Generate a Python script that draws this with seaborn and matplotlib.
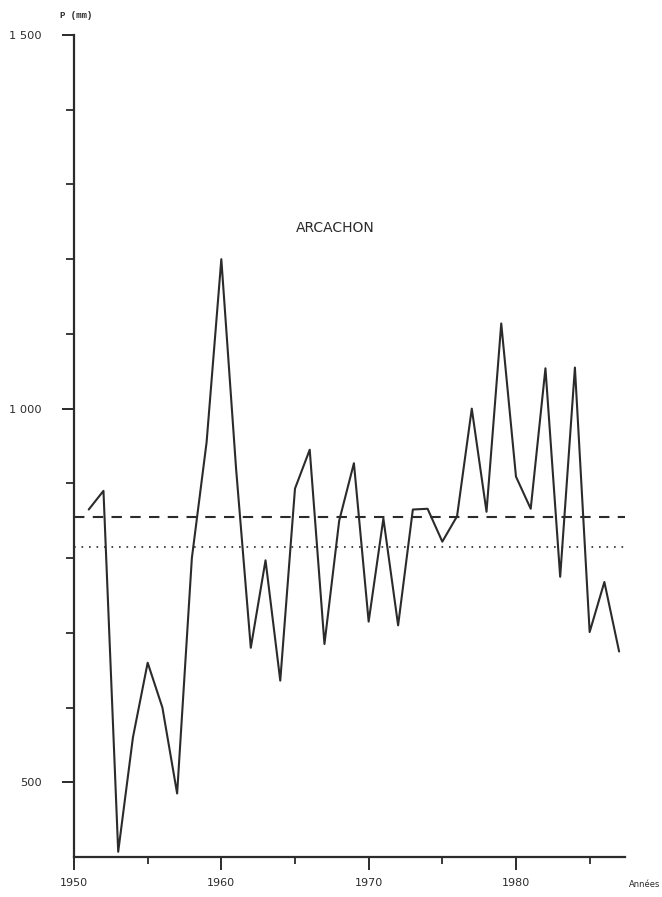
import matplotlib
matplotlib.use("Agg")
import matplotlib.pyplot as plt
import seaborn as sns
import pandas as pd

# Annual precipitation at Arcachon (mm)
years = list(range(1951, 1988))
precip = [865, 890, 407, 560, 660, 600, 485, 800, 955, 1200,
          920, 680, 797, 636, 893, 945, 685, 850, 927, 715,
          853, 710, 865, 866, 822, 856, 1000, 862, 1114, 909,
          866, 1054, 775, 1055, 701, 768, 675]

mean_long = 855    # dashed reference level
mean_short = 815   # dotted reference level

station = "ARCACHON"
y_major = [500, 1000, 1500]
y_major_labels = ["500", "1 000", "1 500"]
y_minor = [600, 700, 800, 900, 1100, 1200, 1300, 1400]
x_major = [1950, 1960, 1970, 1980]
x_minor = [1955, 1965, 1975, 1985]

df = pd.DataFrame({"Année": years, "P": precip})

sns.set_style("white")
plt.rcParams["font.family"] = ["DejaVu Sans"]

W, H = 662, 897
fig = plt.figure(figsize=(W / 100, H / 100), dpi=100)
ax = fig.add_axes([74 / W, 1 - 857 / H, (625 - 74) / W, (857 - 35) / H])

ink = "#2b2b2b"
sns.lineplot(data=df, x="Année", y="P", ax=ax, color=ink, linewidth=1.5)

ax.axhline(mean_long, color=ink, linewidth=1.5, dashes=(5, 4))
ax.axhline(mean_short, color=ink, linewidth=1.2, dashes=(1, 3.5))

ax.set_xlim(1950, 1987.4)
ax.set_ylim(400, 1500)

for s in ["top", "right"]:
    ax.spines[s].set_visible(False)
for s in ["left", "bottom"]:
    ax.spines[s].set_color(ink)
    ax.spines[s].set_linewidth(1.6)

ax.set_yticks(y_major)
ax.set_yticklabels(y_major_labels)
ax.set_yticks(y_minor, minor=True)
ax.set_xticks(x_major)
ax.set_xticklabels([str(v) for v in x_major])
ax.set_xticks(x_minor, minor=True)

ax.tick_params(axis="y", which="major", direction="out", length=9, width=1.4,
               color=ink, labelsize=8.2, labelcolor=ink, pad=14, left=True)
ax.tick_params(axis="y", which="minor", direction="out", length=6, width=1.3,
               color=ink, left=True)
ax.tick_params(axis="x", which="major", direction="out", length=9, width=1.4,
               color=ink, labelsize=8, labelcolor=ink, pad=6, bottom=True)
ax.tick_params(axis="x", which="minor", direction="out", length=5, width=1.3,
               color=ink, bottom=True)

ax.set_xlabel("")
ax.set_ylabel("")
ax.grid(False)

fig.text(76 / W, 1 - 15 / H, "P (mm)", ha="center", va="center",
         fontsize=6.5, family="Liberation Mono", weight="bold", color=ink)
fig.text(645 / W, 1 - 884 / H, "Années", ha="center", va="center",
         fontsize=6, color=ink)
fig.text(335 / W, 1 - 228 / H, station, ha="center", va="center",
         fontsize=10, color=ink)

fig.savefig("out.png", dpi=100, facecolor="white")
